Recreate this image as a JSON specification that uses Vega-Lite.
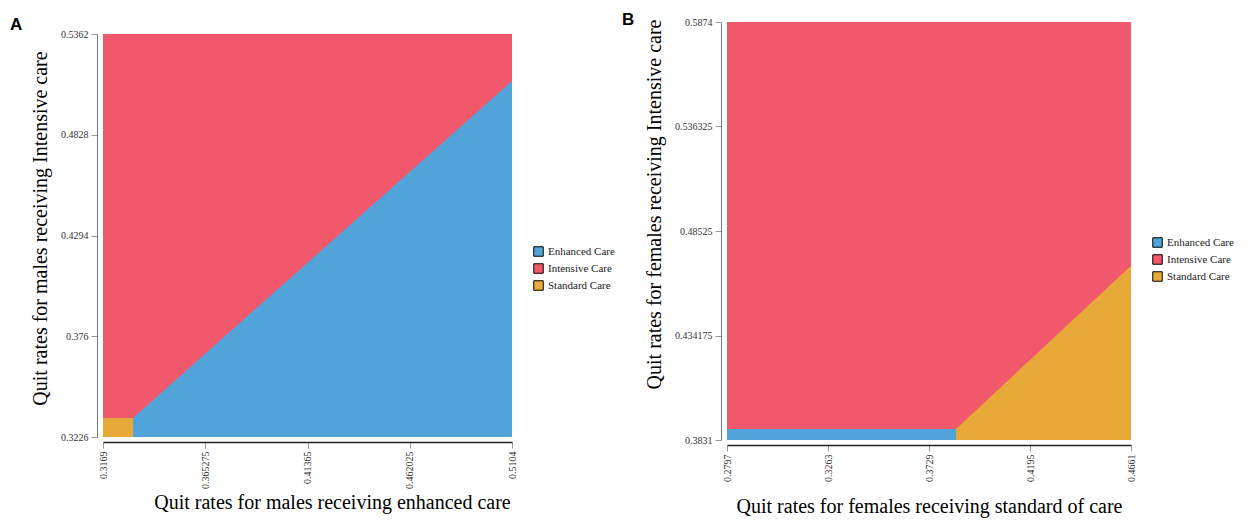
{
  "$schema": "https://vega.github.io/schema/vega-lite/v6.json",
  "background": "white",
  "padding": {"left": 10, "top": 11, "right": 5, "bottom": 5},
  "hconcat": [
    {
      "vconcat": [
        {
          "title": {"text": "A", "anchor": "start", "frame": "group", "dx": -93, "offset": -12, "font": "Liberation Sans", "fontSize": 17, "fontWeight": "bold", "color": "#000000"},
          "width": 409,
          "height": 1,
          "data": {"values": []},
          "mark": {"type": "rect"},
          "encoding": {}
        },
        {
          "width": 409,
          "height": 403,
          "layer": [
            {
              "data": {"values": [
                {"region": "Intensive Care", "x": 0.3169, "x2": 0.5104, "y": 0.3226, "y2": 0.5362},
                {"region": "Standard Care", "x": 0.3169, "x2": 0.3311, "y": 0.3226, "y2": 0.3327}
              ]},
              "mark": {"type": "rect"},
              "encoding": {
                "x": {"field": "x", "type": "quantitative", "scale": {"domain": [0.3169, 0.5104], "nice": false, "zero": false},
                  "axis": {"title": "Quit rates for males receiving enhanced care", "values": [0.3169, 0.365275, 0.41365, 0.462025, 0.5104], "titleX": 229}},
                "x2": {"field": "x2"},
                "y": {"field": "y", "type": "quantitative", "scale": {"domain": [0.3226, 0.5362], "nice": false, "zero": false},
                  "axis": {"title": "Quit rates for males receiving Intensive care", "values": [0.3226, 0.376, 0.4294, 0.4828, 0.5362], "titleY": 194}},
                "y2": {"field": "y2"},
                "color": {"field": "region", "type": "nominal",
                  "scale": {"domain": ["Enhanced Care", "Intensive Care", "Standard Care"], "range": ["#50a4da", "#f2586c", "#e7aa38"]},
                  "legend": {"title": null, "orient": "none", "legendX": 430, "legendY": 212}}
              }
            },
            {
              "data": {"values": [
                {"region": "Enhanced Care", "x": 0.3311, "y": 0.3327, "y2": 0.3226},
                {"region": "Enhanced Care", "x": 0.5104, "y": 0.5113, "y2": 0.3226}
              ]},
              "mark": {"type": "area", "orient": "vertical"},
              "encoding": {
                "x": {"field": "x", "type": "quantitative"},
                "y": {"field": "y", "type": "quantitative"},
                "y2": {"field": "y2"},
                "color": {"field": "region", "type": "nominal"}
              }
            }
          ]
        }
      ],
      "spacing": 11,
      "bounds": "flush",
      "resolve": {"scale": {"color": "independent"}, "legend": {"color": "independent"}}
    },
    {
      "title": {"text": "B", "anchor": "start", "frame": "group", "dx": -105, "offset": -12, "font": "Liberation Sans", "fontSize": 17, "fontWeight": "bold", "color": "#000000"},
      "width": 404,
      "height": 418,
      "layer": [
        {
          "data": {"values": [
            {"region": "Intensive Care", "x": 0.2797, "x2": 0.4661, "y": 0.3831, "y2": 0.5874},
            {"region": "Enhanced Care", "x": 0.2797, "x2": 0.3854, "y": 0.3831, "y2": 0.3885}
          ]},
          "mark": {"type": "rect"},
          "encoding": {
            "x": {"field": "x", "type": "quantitative", "scale": {"domain": [0.2797, 0.4661], "nice": false, "zero": false},
              "axis": {"title": "Quit rates for females receiving standard of care", "values": [0.2797, 0.3263, 0.3729, 0.4195, 0.4661], "titlePadding": 15}},
            "x2": {"field": "x2"},
            "y": {"field": "y", "type": "quantitative", "scale": {"domain": [0.3831, 0.5874], "nice": false, "zero": false},
              "axis": {"title": "Quit rates for females receiving Intensive care", "values": [0.3831, 0.434175, 0.48525, 0.536325, 0.5874], "titleY": 182}},
            "y2": {"field": "y2"},
            "color": {"field": "region", "type": "nominal",
              "scale": {"domain": ["Enhanced Care", "Intensive Care", "Standard Care"], "range": ["#50a4da", "#f2586c", "#e7aa38"]},
              "legend": {"title": null, "orient": "none", "legendX": 425, "legendY": 215}}
          }
        },
        {
          "data": {"values": [
            {"region": "Standard Care", "x": 0.3854, "y": 0.3885, "y2": 0.3831},
            {"region": "Standard Care", "x": 0.4661, "y": 0.4683, "y2": 0.3831}
          ]},
          "mark": {"type": "area", "orient": "vertical"},
          "encoding": {
            "x": {"field": "x", "type": "quantitative"},
            "y": {"field": "y", "type": "quantitative"},
            "y2": {"field": "y2"},
            "color": {"field": "region", "type": "nominal"}
          }
        }
      ]
    }
  ],
  "spacing": 7,
  "resolve": {"scale": {"color": "independent"}, "legend": {"color": "independent"}},
  "config": {
    "view": {"stroke": null},
    "axis": {
      "grid": false,
      "labelFont": "Liberation Serif",
      "labelFontSize": 10,
      "labelColor": "#333333",
      "tickColor": "#999999",
      "tickSize": 6,
      "titleFont": "Liberation Serif",
      "titleFontSize": 20,
      "titleFontWeight": "normal",
      "titleColor": "#000000",
      "format": ".6~g"
    },
    "axisX": {"labelAngle": -90, "offset": 5, "domainColor": "#222222", "domainWidth": 1.5, "labelPadding": 3, "titlePadding": 4},
    "axisY": {"offset": 6, "domainColor": "#777777", "domainWidth": 1, "labelPadding": 3, "titlePadding": 10},
    "legend": {
      "symbolType": "square",
      "symbolSize": 90,
      "symbolStrokeColor": "#000000",
      "symbolStrokeWidth": 1,
      "symbolOpacity": 1,
      "labelFont": "Liberation Serif",
      "labelFontSize": 11,
      "labelColor": "#222222",
      "rowPadding": 2,
      "padding": 0
    }
  }
}
